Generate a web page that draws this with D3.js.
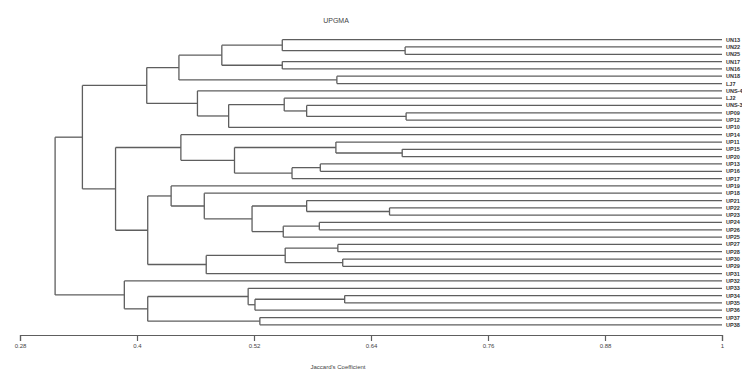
<!DOCTYPE html>
<html>
<head>
<meta charset="utf-8">
<script src="https://cdn.jsdelivr.net/npm/d3@7"></script>
<style>
  html, body { margin: 0; padding: 0; background: #fff; }
  svg { display: block; }
  text { font-family: "Liberation Sans", Arial, sans-serif; }
</style>
</head>
<body>
<svg id="chart" width="742" height="374"></svg>
<script>
// ---- data ----
const chartTitle = "UPGMA";
const axisTitle = "Jaccard's Coefficient";
const tickValues = [0.28, 0.4, 0.52, 0.64, 0.76, 0.88, 1];
const tickLabels = ["0.28", "0.4", "0.52", "0.64", "0.76", "0.88", "1"];

// leaf labels, top to bottom (illegible in the source, approximated)
const leafLabels = [
  "UN13","UN22","UN25","UN17","UN16","UN18","LJ7","UNS-4","LJ2","UNS-3",
  "UP09","UP12","UP10","UP14","UP11","UP15","UP20","UP13","UP16","UP17",
  "UP19","UP18","UP21","UP22","UP23","UP24","UP26","UP25","UP27","UP28",
  "UP30","UP29","UP31","UP32","UP33","UP34","UP35","UP36","UP37","UP38"
];

// merges: [id, left, right, similarity]; "L#" = leaf index, "m#" = earlier merge
const merges = [
  ["m1","L1","L2",0.675],
  ["m2","L0","m1",0.549],
  ["m3","L3","L4",0.549],
  ["m4","m2","m3",0.487],
  ["m5","L5","L6",0.605],
  ["m6","m4","m5",0.443],
  ["m7","L10","L11",0.676],
  ["m8","L9","m7",0.574],
  ["m9","L8","m8",0.551],
  ["m10","m9","L12",0.494],
  ["m11","L7","m10",0.462],
  ["m12","m6","m11",0.410],
  ["m13","L15","L16",0.672],
  ["m14","L14","m13",0.604],
  ["m15","L17","L18",0.588],
  ["m16","m15","L19",0.559],
  ["m17","m14","m16",0.500],
  ["m18","L13","m17",0.445],
  ["m19","L23","L24",0.659],
  ["m20","L22","m19",0.574],
  ["m21","L25","L26",0.587],
  ["m22","m21","L27",0.550],
  ["m23","m20","m22",0.518],
  ["m24","L21","m23",0.469],
  ["m25","L20","m24",0.435],
  ["m26","L28","L29",0.606],
  ["m27","L30","L31",0.611],
  ["m28","m26","m27",0.552],
  ["m29","m28","L32",0.471],
  ["m30","m25","m29",0.411],
  ["m31","m18","m30",0.378],
  ["m32","m12","m31",0.344],
  ["m33","L35","L36",0.613],
  ["m34","m33","L37",0.521],
  ["m35","L34","m34",0.514],
  ["m36","L38","L39",0.526],
  ["m37","m35","m36",0.411],
  ["m38","L33","m37",0.387],
  ["m39","m32","m38",0.316]
];

// ---- build tree ----
const nodes = {};
leafLabels.forEach((lab, i) => { nodes["L" + i] = { name: lab, value: 1 }; });
merges.forEach(([id, a, b, v]) => { nodes[id] = { name: id, value: v, children: [nodes[a], nodes[b]] }; });
const rootData = nodes[merges[merges.length - 1][0]];

const root = d3.hierarchy(rootData);
const yTop = 36, yBottom = 328.5;
d3.cluster().size([yBottom - yTop, 1]).separation(() => 1)(root);

const x = d3.scaleLinear().domain([0.28, 1]).range([20, 722]);
const yPos = d => yTop + d.x;

const svg = d3.select("#chart");
const g = svg.append("g");
const stroke = "#5e5e5e";

// vertical connectors
root.descendants().filter(d => d.children).forEach(d => {
  const ys = d.children.map(yPos);
  g.append("line")
    .attr("x1", x(d.data.value)).attr("x2", x(d.data.value))
    .attr("y1", d3.min(ys)).attr("y2", d3.max(ys))
    .attr("stroke", stroke).attr("stroke-width", 1.3);
});
// horizontal branches
root.links().forEach(l => {
  g.append("line")
    .attr("x1", x(l.source.data.value)).attr("x2", x(l.target.data.value))
    .attr("y1", yPos(l.target)).attr("y2", yPos(l.target))
    .attr("stroke", stroke).attr("stroke-width", 1.3);
});
// leaf labels
g.selectAll("text.leaf").data(root.leaves()).enter().append("text")
  .attr("class", "leaf")
  .attr("x", x(1) + 4).attr("y", d => yPos(d) + 2)
  .attr("font-size", 5.5).attr("font-weight", "bold").attr("fill", "#333")
  .text(d => d.data.name);

// axis
const axisY = 335;
const axis = d3.axisBottom(x).tickValues(tickValues)
  .tickFormat((d, i) => tickLabels[i]).tickSize(6).tickSizeOuter(6);
const ag = svg.append("g").attr("transform", `translate(0,${axisY})`).call(axis);
ag.selectAll("path, line").attr("stroke", stroke).attr("stroke-width", 1.2);
ag.selectAll("text").attr("font-size", 6).attr("fill", "#444")
  .attr("font-family", "Liberation Sans, Arial, sans-serif");

// titles
svg.append("text").attr("x", 336).attr("y", 23).attr("text-anchor", "middle")
  .attr("font-size", 7).attr("fill", "#444").text(chartTitle);
svg.append("text").attr("x", 338).attr("y", 369).attr("text-anchor", "middle")
  .attr("font-size", 6).attr("fill", "#444").text(axisTitle);
</script>
</body>
</html>
